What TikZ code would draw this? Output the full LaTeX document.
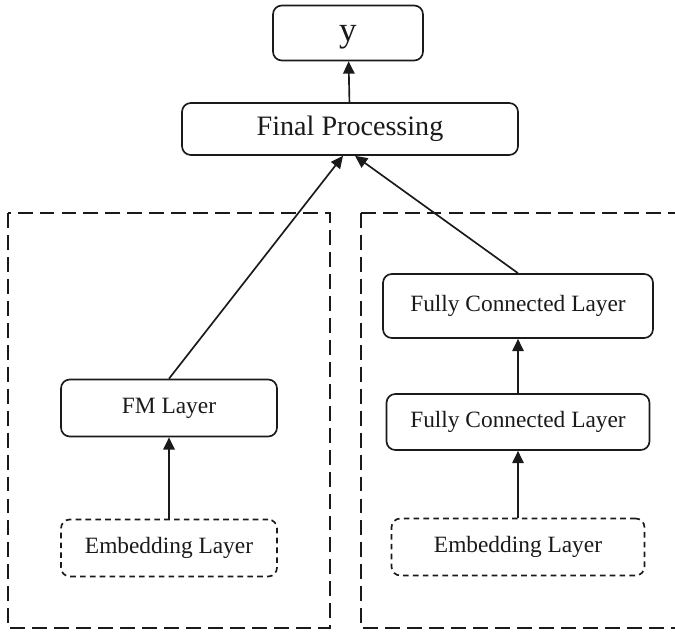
\documentclass[tikz,border=0pt]{standalone}
\usepackage{fontspec}
\setmainfont{Liberation Serif}
\usepackage{tikz}
\usetikzlibrary{positioning,arrows.meta,calc}
\definecolor{ink}{HTML}{1A1A1A}
\tikzset{
  every node/.style={font=\fontsize{13.3}{16}\selectfont, text=ink},
  % --- nodes
  blk/.style   = {rounded corners=5pt, draw=ink, line width=0.95pt, fill=white,
                  align=center, inner sep=2pt},
  emb/.style   = {blk, dashed, dash pattern=on 3.2pt off 2.4pt},
  grp/.style   = {draw=ink, line width=1.3pt, dash pattern=on 8.5pt off 4pt},
  % --- edges
  e/.style     = {-{Triangle[length=7pt,width=6.5pt]}, line width=0.95pt, draw=ink},
}
\begin{document}
\begin{tikzpicture}[x=0.02cm,y=-0.02cm]
  \useasboundingbox (0,0) rectangle (675,633);
  \clip (0,0) rectangle (675,633);

  % two branches
  \draw[grp] (8,213) rectangle (330,628);
  \draw[grp] (361,213) rectangle (700,628);

  \node[blk, minimum width=3cm, minimum height=1.1cm, text depth=0pt, font=\fontsize{20}{22}\selectfont] (y) at (348,33) {y};
  \node[blk, minimum width=6.72cm, minimum height=1.04cm, font=\fontsize{16}{20}\selectfont] (fin) at (350,129) {Final Processing};

  \node[blk, minimum width=4.32cm, minimum height=1.14cm] (fm) at (169,408) {FM Layer};
  \node[emb, minimum width=4.32cm, minimum height=1.14cm] (embl) at (169,548) {Embedding Layer};

  \node[blk, minimum width=5.4cm, minimum height=1.28cm] (fc2) at (518,306) {Fully Connected Layer};
  \node[blk, minimum width=5.26cm, minimum height=1.12cm] (fc1) at (518,422) {Fully Connected Layer};
  \node[emb, minimum width=5.06cm, minimum height=1.14cm] (embr) at (518,547) {Embedding Layer};

  \draw[e] (embl) -- (fm);
  \draw[e] (embr) -- (fc1);
  \draw[e] (fc1) -- (fc2);
  \draw[e] (fm.north) -- ([xshift=-0.14cm]fin.south);
  \draw[e] (fc2.north) -- ([xshift=0.1cm]fin.south);
  \draw[e] (fin) -- (y);
\end{tikzpicture}
\end{document}
